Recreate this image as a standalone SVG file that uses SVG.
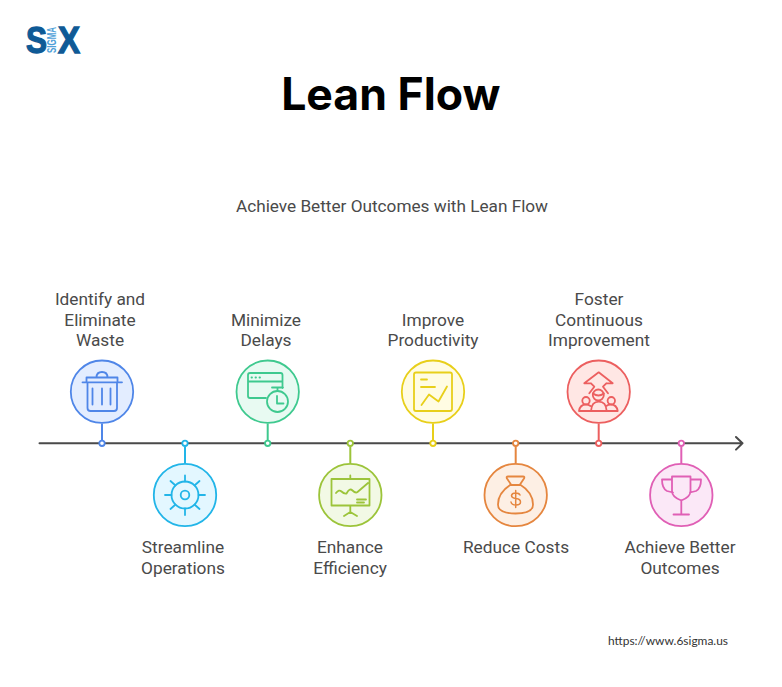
<svg xmlns="http://www.w3.org/2000/svg" width="782" height="687" viewBox="0 0 782 687">
<style>
text{font-family:Inter,"Liberation Sans",sans-serif}
.l{font-family:Roboto,"Liberation Sans",sans-serif;font-size:17.300px;fill:#4a4a4a;text-anchor:middle}
.i{fill:none;stroke-width:1.800;stroke-linecap:round;stroke-linejoin:round}
.c{stroke-width:1.800}
.s{stroke-width:2;fill:none}
.d{fill:#fff;stroke-width:1.800}
.b{font-family:"Liberation Sans",sans-serif;font-weight:700;font-size:36px;fill:#0f5a96;stroke:#0f5a96;stroke-width:1.300}
</style>
<rect width="782" height="687" fill="#fff"/>
<g id="logo">
<text class="b" x="26" y="52.500" textLength="21" lengthAdjust="spacingAndGlyphs">S</text>
<text class="b" x="58" y="52.500" textLength="22" lengthAdjust="spacingAndGlyphs">X</text>
<text transform="translate(56 53) rotate(-90)" style="font-family:'Liberation Sans',sans-serif;font-weight:700;font-size:12px" textLength="26" lengthAdjust="spacingAndGlyphs" fill="#4f9fd8">SIGMA</text>
</g>
<text id="title" x="390.800" y="110" text-anchor="middle" font-size="44.600" font-weight="700" fill="#000">Lean Flow</text>
<text id="subtitle" x="392" y="212" text-anchor="middle" style="font-family:Roboto,'Liberation Sans',sans-serif" font-size="17.200" fill="#4a4a4a">Achieve Better Outcomes with Lean Flow</text>
<g id="connectors">
<path d="M39.500 443.300H742.500M736 437l6.500 6.300-6.500 6.300" fill="none" stroke="#4a4a4a" stroke-width="2" stroke-linecap="round" stroke-linejoin="round"/>
<path class="s" stroke="#4f86e8" d="M102 423.500V440"/>
<path class="s" stroke="#22b5e8" d="M185 446.500V463"/>
<path class="s" stroke="#3fc98f" d="M267.700 423.500V440"/>
<path class="s" stroke="#9cc43a" d="M350.300 446.500V463"/>
<path class="s" stroke="#e8cf1a" d="M433 423.500V440"/>
<path class="s" stroke="#e5863f" d="M515.700 446.500V463"/>
<path class="s" stroke="#ec5f5f" d="M598.700 423.500V440"/>
<path class="s" stroke="#e05fb5" d="M681.300 446.500V463"/>
<circle class="d" stroke="#4f86e8" cx="102" cy="443.300" r="2.700"/>
<circle class="d" stroke="#22b5e8" cx="185" cy="443.300" r="2.700"/>
<circle class="d" stroke="#3fc98f" cx="267.700" cy="443.300" r="2.700"/>
<circle class="d" stroke="#9cc43a" cx="350.300" cy="443.300" r="2.700"/>
<circle class="d" stroke="#e8cf1a" cx="433" cy="443.300" r="2.700"/>
<circle class="d" stroke="#e5863f" cx="515.700" cy="443.300" r="2.700"/>
<circle class="d" stroke="#ec5f5f" cx="598.700" cy="443.300" r="2.700"/>
<circle class="d" stroke="#e05fb5" cx="681.300" cy="443.300" r="2.700"/>
</g>
<g id="n1">
<circle class="c" cx="102" cy="391.700" r="31.200" fill="#e3edff" stroke="#4f86e8"/>
<path class="i" stroke="#4f86e8" d="M82.500 382.300H122M86.500 382.300V377.500H117.500V382.300M87.500 382.300V408q0 3 3 3H114q3 0 3-3V382.300M96.500 377.500q0-5.500 5.500-5.500t5.500 5.500M92.500 388.500V404.500M102 388.500V404.500M110.500 388.500V404.500"/>
<text class="l"><tspan x="100" y="305">Identify and</tspan><tspan x="100" y="326">Eliminate</tspan><tspan x="100" y="346">Waste</tspan></text>
</g>
<g id="n2">
<circle class="c" cx="185" cy="495" r="31.200" fill="#e3f7ff" stroke="#22b5e8"/>
<g class="i" stroke="#22b5e8"><circle cx="185" cy="495" r="4.300"/><circle cx="185" cy="495" r="13.500"/><path d="M185 475.500V481.500M185 508.500V515M165 495H171.500M198.500 495H205M170.500 481l5 4.500M199.500 481l-5 4.500M170.500 509l5-4.500M199.500 509l-5-4.500"/></g>
<text class="l"><tspan x="183" y="553">Streamline</tspan><tspan x="183" y="574">Operations</tspan></text>
</g>
<g id="n3">
<circle class="c" cx="267.700" cy="391.700" r="31.200" fill="#e8faf2" stroke="#3fc98f"/>
<g class="i" stroke="#3fc98f"><path d="M282.500 388V375q0-2-2-2H250q-2 0-2 2V396q0 2 2 2H266M248 381.500H282.500M272 387.500H283M277.500 387.500V391M251.500 377.500h.5M255.500 377.500h.5M259.500 377.500h.5M277 396V403.500H283.500"/><circle cx="277.500" cy="401.500" r="10.500"/></g>
<text class="l"><tspan x="266" y="326">Minimize</tspan><tspan x="266" y="346">Delays</tspan></text>
</g>
<g id="n4">
<circle class="c" cx="350.300" cy="495" r="31.200" fill="#f2f9e5" stroke="#9cc43a"/>
<path class="i" stroke="#9cc43a" d="M350.300 475.500V479M331.500 479H369.500V505.500H331.500ZM350.300 505.500V512M350.300 512L344 516M350.300 512L357 516M336 493q3-4 5.500-1.500t5 2q3-6 6-3t5 1.500l10.500-9M357 499.500H366M357 502.500H364"/>
<text class="l"><tspan x="350" y="553">Enhance</tspan><tspan x="350" y="574">Efficiency</tspan></text>
</g>
<g id="n5">
<circle class="c" cx="433" cy="391.700" r="31.200" fill="#fffce3" stroke="#e8cf1a"/>
<path class="i" stroke="#e8cf1a" d="M416 372.500H450q2 0 2 2V409q0 2-2 2H416q-2 0-2-2V374.500q0-2 2-2ZM421 379.500H427M421 387H435M421.500 405l7.500-10.500 9.500 7 8.500-15"/>
<text class="l"><tspan x="433" y="326">Improve</tspan><tspan x="433" y="346">Productivity</tspan></text>
</g>
<g id="n6">
<circle class="c" cx="515.700" cy="495" r="31.200" fill="#fdefe4" stroke="#e5863f"/>
<g class="i" stroke="#e5863f"><path d="M508 476.500H523q2 0 1 2l-4 6q13 8 13 20 0 9-17.500 9t-17.500-9q0-12 13-20l-4-6q-1-2 1-2ZM511 485H520"/><path d="M520 495q-1-2-4.500-2t-4 2.500q0 2.500 4.500 3t4.500 3.500q0 3-4.500 3t-5-3M515.700 490.500V507.500" stroke-width="1.500"/></g>
<text class="l"><tspan x="516" y="553">Reduce Costs</tspan></text>
</g>
<g id="n7">
<circle class="c" cx="598.700" cy="391.700" r="31.200" fill="#ffe7e4" stroke="#ec5f5f"/>
<g class="i" stroke="#ec5f5f"><path d="M591 383.300H584.300L598.700 372.300 612.700 383.300H606.300M591 383.300L594.300 386.700 589.300 393.300M606.300 383.300L603 386.700 608 393.300"/><circle cx="598.300" cy="395" r="5.500"/><path d="M593 393.500Q598.500 397.500 603.800 393.500"/><circle cx="586" cy="400.700" r="3.700"/><circle cx="611.300" cy="400.700" r="3.700"/><path d="M579 411q1-6.500 7-6.500 2.500 0 4.500 1.500M617.700 411q-1-6.500-7-6.500-2.500 0-4.500 1.500M591 411q.5-9.300 7.800-9.300t7.900 9.300M579 411H617.700"/></g>
<text class="l"><tspan x="599" y="305">Foster</tspan><tspan x="599" y="326">Continuous</tspan><tspan x="599" y="346">Improvement</tspan></text>
</g>
<g id="n8">
<circle class="c" cx="681.300" cy="495" r="31.200" fill="#fbe8f7" stroke="#e05fb5"/>
<path class="i" stroke="#e05fb5" d="M672 476.500H690.500V491q0 6-9.200 9.500-9.300-3.500-9.300-9.500ZM672 479.500H662q0 9 5 11.500l6 1.500M690.500 479.500H701q0 9-5 11.500l-6 1.500M681.300 500.500V514.500M673.500 514.500H689"/>
<text class="l"><tspan x="680" y="553">Achieve Better</tspan><tspan x="680" y="574">Outcomes</tspan></text>
</g>
<text id="url" x="608" y="645" style="font-family:Lato,'Liberation Sans',sans-serif" font-size="12" textLength="120" lengthAdjust="spacingAndGlyphs" fill="#333">https://www.6sigma.us</text>
</svg>
